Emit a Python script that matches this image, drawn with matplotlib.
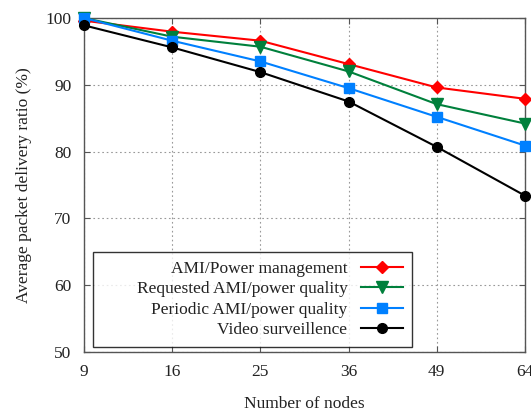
import numpy as np
import matplotlib
matplotlib.use('Agg')
import matplotlib.pyplot as plt

plt.rcParams['font.family'] = ['Liberation Serif', 'DejaVu Serif']

#Data
nodes = ['9', '16', '25', '36', '49', '64']
ami_power = [99.6, 97.95, 96.6, 93.1, 89.6, 87.9]
requested_ami = [100.0, 97.2, 95.7, 92.0, 87.1, 84.2]
periodic_ami = [100.0, 96.6, 93.5, 89.5, 85.2, 80.9]
video = [98.9, 95.6, 91.9, 87.5, 80.7, 73.4]

series = [
    ('AMI/Power management', ami_power, '#ff0000', 'D', 6),
    ('        Requested AMI/power quality', requested_ami, '#00803c', 'v', 8),
    ('Periodic AMI/power quality', periodic_ami, '#0080ff', 's', 7),
    ('Video surveillence', video, '#000000', 'o', 7),
]

fig = plt.figure(figsize=(5.31, 4.12), dpi=100)
ax = fig.add_axes([84 / 531, 1 - 352 / 412, (525 - 84) / 531, (352 - 18) / 412])

x = np.arange(len(nodes))
for label, vals, color, marker, ms in series:
    ax.plot(x, vals, color=color, marker=marker, markersize=ms, lw=1.5,
            label=label, clip_on=False, zorder=3)

ax.set_xlim(0, len(nodes) - 1)
ax.set_ylim(50, 100)
ax.set_xticks(x)
ax.set_xticklabels(nodes)
ax.set_yticks(np.arange(50, 101, 10))
ax.grid(True, color='#999999', linestyle=(0, (1.5, 2.5)), lw=0.8)
ax.tick_params(direction='in', top=True, right=True, length=4, color='#555555',
               labelsize=12.5, labelcolor='#222222')
ax.tick_params(axis='x', pad=9)
ax.tick_params(axis='y', pad=9)
for s in ax.spines.values():
    s.set_color('#555555')
    s.set_linewidth(1.0)

ax.set_xlabel('Number of nodes', fontsize=12.5, labelpad=11, color='#222222')
ax.set_ylabel('Average packet delivery ratio (%)', fontsize=12.5, labelpad=10,
              color='#222222')

leg = ax.legend(loc='lower left', bbox_to_anchor=(0.02, 0.015), markerfirst=False,
                fontsize=12.5, frameon=True, fancybox=False, edgecolor='black',
                handlelength=2.4, labelspacing=0.25, borderpad=0.5,
                handletextpad=0.8, borderaxespad=0.0)
leg.get_frame().set_linewidth(1.0)
for t in leg.get_texts():
    t.set_color('#222222')

fig.savefig('out.png', dpi=100)
